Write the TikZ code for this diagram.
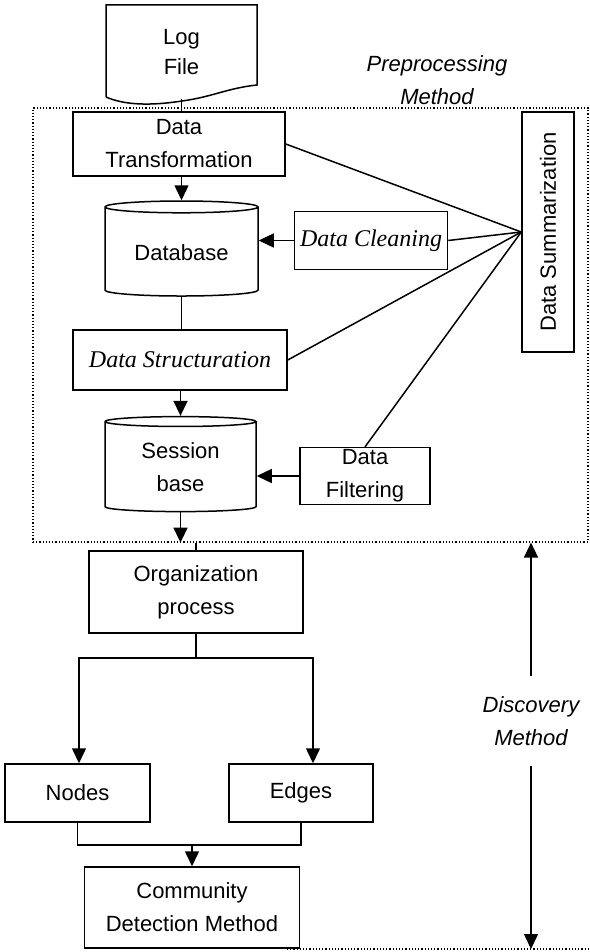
\documentclass[tikz,border=0pt]{standalone}
\usepackage{fontspec}
\setmainfont{Liberation Sans}
\newfontfamily\timesfont{Liberation Serif}
\usetikzlibrary{shapes.geometric, arrows.meta}

\begin{document}
\begin{tikzpicture}[x=1pt, y=-1pt,
  box/.style={draw, line width=1.5pt, align=center, inner sep=2pt, font=\fontsize{22}{33}\selectfont},
  dbase/.style={box, cylinder, shape border rotate=90, aspect=0.12},
  frame/.style={draw, dotted, line width=1.2pt, inner sep=0pt},
  lbl/.style={align=center, font=\fontsize{22}{33}\selectfont\itshape},
  link/.style={line width=1.5pt},
  arr/.style={-{Triangle[length=15pt, width=14pt]}, line width=1.5pt}
]
\useasboundingbox (0,0) rectangle (589,952);

% preprocessing part
\node[frame, minimum width=555pt, minimum height=434pt] (pre) at (310.5,325) {};
\node[lbl] (prelbl) at (437,80.5) {Preprocessing\\Method};

\node[minimum width=151pt, minimum height=94pt, align=center, font=\fontsize{22}{30}\selectfont] (logfile) at (181.5,52) {Log\\File};
\draw[link] (106,97) -- (106,5) -- (257,5) -- (257,85)
  .. controls (228,88) and (212,97) .. (182,101)
  .. controls (150,106) and (124,105) .. (106,97);

\node[box, minimum width=212pt, minimum height=64pt] (dt) at (179,144) {Data\\Transformation};
\node[dbase, minimum width=153pt, minimum height=95pt] (db) at (181.5,252.5) {Database};
\node[box, minimum width=153pt, minimum height=58pt] (dc) at (371,240.5) {\timesfont\itshape\fontsize{24}{30}\selectfont Data Cleaning};
\node[box, minimum width=52pt, minimum height=240pt] (dsum) at (548,232) {\rotatebox{90}{Data Summarization}};
\node[box, minimum width=214pt, minimum height=60pt] (ds) at (180,360) {\timesfont\itshape\fontsize{24}{30}\selectfont Data Structuration};
\node[dbase, minimum width=151pt, minimum height=95pt] (sb) at (180.5,467.5) {Session\\base};
\node[box, minimum width=130pt, minimum height=56pt] (df) at (365,476) {Data\\Filtering};

\draw[link] (logfile.south) -- (logfile.south |- dt.north);
\draw[arr] (db.north |- dt.south) -- (db.north);
\draw[arr] (dc.west) -- (dc.west -| db.east);
\draw[link] (db.south) -- (db.south |- ds.north);
\draw[arr] (sb.north |- ds.south) -- (sb.north);
\draw[arr] (df.west) -- (df.west -| sb.east);
\draw[arr] (sb.south) -- (sb.south |- pre.south);

\draw[link] (dsum.west) -- (dt.east);
\draw[link] (dsum.west) -- (dc.east);
\draw[link] (dsum.west) -- (ds.east);
\draw[link] (dsum.west) -- (df.north);

% discovery part
\node[box, minimum width=214pt, minimum height=82pt] (org) at (196,592) {Organization\\process};
\node[box, minimum width=145pt, minimum height=58pt] (nodes) at (77.5,793) {Nodes};
\node[box, minimum width=144pt, minimum height=58pt] (edges) at (301,793) {Edges};
\node[box, minimum width=215pt, minimum height=81pt] (comm) at (192,907.5) {Community\\Detection Method};

\draw[link] (org.north) -- (org.north |- pre.south);
\draw[arr] (org.south) -- ++(0,24) coordinate (split) -| ([xshift=1.5pt]nodes.north);
\draw[arr] (split) -| ([xshift=12pt]edges.north);
\draw[link] (nodes.south) -- ++(0,22) coordinate (merge) -| (edges.south);
\draw[arr] (comm.north |- merge) -- (comm.north);

\node[lbl, inner ysep=20pt] (disc) at (531,721) {Discovery\\Method};
\coordinate (discend) at (287,949);
\draw[dotted, line width=1.2pt] (discend) -- (589,949);
\draw[arr] (disc.north) -- (disc.north |- pre.south);
\draw[arr] (disc.south) -- (disc.south |- discend);
\end{tikzpicture}
\end{document}
